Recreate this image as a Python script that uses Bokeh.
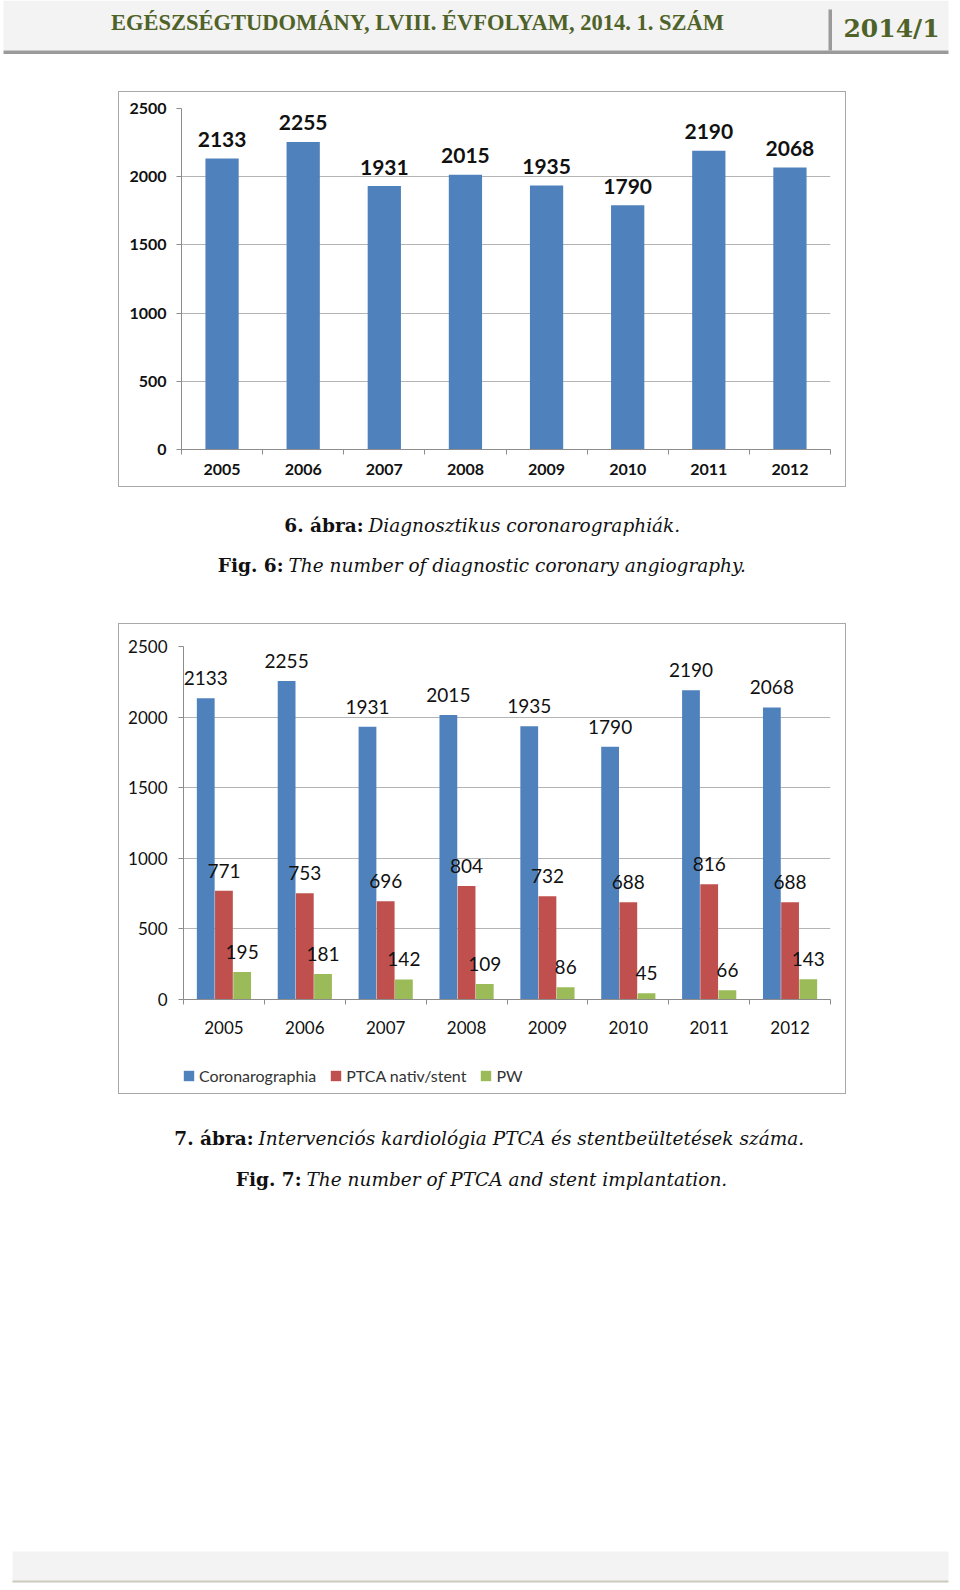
from bokeh.plotting import figure
from bokeh.models import (Range1d, FixedTicker, ColumnDataSource, Legend, LegendItem, Spacer)
from bokeh.layouts import column, row
from bokeh.core.properties import value
from bokeh.embed import file_html
from bokeh.resources import INLINE

# ---------------- data ----------------
years = ["2005", "2006", "2007", "2008", "2009", "2010", "2011", "2012"]
coronarographia = [2133, 2255, 1931, 2015, 1935, 1790, 2190, 2068]
ptca_nativ_stent = [771, 753, 696, 804, 732, 688, 816, 688]
pw = [195, 181, 142, 109, 86, 45, 66, 143]
y_ticks = [0, 500, 1000, 1500, 2000, 2500]
series_names = ["Coronarographia", "PTCA nativ/stent", "PW"]
series_colors = ["#4f81bd", "#c0504d", "#9bbb59"]

header_title = "EGÉSZSÉGTUDOMÁNY, LVIII. ÉVFOLYAM, 2014. 1. SZÁM"
header_issue = "2014/1"
cap6_bold = ["6. ábra:", "Fig. 6:"]
cap6_italic = ["Diagnosztikus coronarographiák.", "The number of diagnostic coronary angiography."]
cap7_bold = ["7. ábra:", "Fig. 7:"]
cap7_italic = ["Intervenciós kardiológia PTCA és stentbeültetések száma.",
               "The number of PTCA and stent implantation."]

HEAD_GREEN = "#4f6228"
SERIF = "DejaVu Serif"
SANS = "Lato"
AXIS_GREY = "#8c8c8c"
GRID_GREY = "#b4b4b4"
BORDER = "1px solid #a8a8a8"
PAGE_W = 958

n = len(years)
centers = [i + 0.5 for i in range(n)]   # category slot centres on the x scale


def blank(top, bottom):
    f = figure(width=PAGE_W, height=bottom - top, x_range=Range1d(0, PAGE_W), y_range=Range1d(bottom, top),
               output_backend="svg", toolbar_location=None, min_border=0,
               x_axis_location=None, y_axis_location=None)
    f.outline_line_color = None
    f.grid.visible = False
    f.background_fill_color = "white"
    f.border_fill_color = "white"
    return f


def caption(f, ys, split_x, bold, italic):
    f.text(x=split_x, y=ys, text=bold, text_align="right", text_baseline="alphabetic",
           text_font=value(SERIF), text_font_style="bold", text_font_size="18.5px", text_color="#111111")
    f.text(x=[s + 5 for s in split_x], y=ys, text=italic, text_align="left", text_baseline="alphabetic",
           text_font=value(SERIF), text_font_style="italic", text_font_size="18.5px", text_color="#111111")


# ---------------- header ----------------
head = blank(0, 91)
head.quad(left=3, right=948, top=0, bottom=50, fill_color="#f3f3f3", line_color=None)
head.quad(left=3, right=948, top=50, bottom=53.5, fill_color="#9a9a9a", line_color=None)
head.quad(left=828, right=831.5, top=9, bottom=50, fill_color="#9a9a9a", line_color=None)
head.text(x=[417], y=[22], text=[header_title], text_align="center", text_baseline="alphabetic",
          text_font=value("Liberation Serif"), text_font_style="bold", text_font_size="22.5px",
          text_color=HEAD_GREEN)
head.text(x=[891], y=[28], text=[header_issue], text_align="center", text_baseline="alphabetic",
          text_font=value(SERIF), text_font_style="bold", text_font_size="25px", text_color=HEAD_GREEN)


def style_axes(p, ystand, yfont, xstand, xfont, bold):
    p.yaxis.ticker = FixedTicker(ticks=y_ticks)
    p.yaxis.axis_line_color = AXIS_GREY
    p.yaxis.major_tick_line_color = AXIS_GREY
    p.yaxis.major_tick_out = 5
    p.yaxis.major_tick_in = 0
    p.yaxis.minor_tick_line_color = None
    p.yaxis.major_label_standoff = ystand
    p.yaxis.major_label_text_font = SANS
    p.yaxis.major_label_text_font_size = yfont
    p.yaxis.major_label_text_font_style = "bold" if bold else "normal"
    p.yaxis.major_label_text_color = "#111111"
    p.ygrid.ticker = FixedTicker(ticks=y_ticks)
    p.ygrid.grid_line_color = GRID_GREY
    p.xgrid.visible = False
    p.outline_line_color = None
    xa = p.xaxis
    xa.ticker = FixedTicker(ticks=centers, minor_ticks=list(range(n + 1)))
    xa.major_label_overrides = {c: y for c, y in zip(centers, years)}
    xa.axis_line_color = AXIS_GREY
    xa.major_tick_line_color = None
    xa.major_tick_out = 0
    xa.major_tick_in = 0
    xa.minor_tick_line_color = AXIS_GREY
    xa.minor_tick_out = 5
    xa.minor_tick_in = 0
    xa.major_label_standoff = xstand
    xa.major_label_text_font = SANS
    xa.major_label_text_font_size = xfont
    xa.major_label_text_font_style = "bold" if bold else "normal"
    xa.major_label_text_color = "#111111"


# ---------------- chart 6 ----------------
p1 = figure(x_range=Range1d(0, n), y_range=Range1d(0, 2500), width=728, height=396,
            min_border_left=62, min_border_right=17, min_border_top=16, min_border_bottom=39,
            output_backend="svg", toolbar_location=None, styles={"border": BORDER})
style_axes(p1, 10, "16px", 9, "16px", True)
src1 = ColumnDataSource(dict(x=centers, value=coronarographia, label=[str(v) for v in coronarographia]))
p1.vbar(x="x", top="value", width=0.41, source=src1, fill_color=series_colors[0], line_color=None)
p1.text(x="x", y="value", text="label", source=src1, y_offset=-19, text_align="center",
        text_baseline="middle", text_font=value(SANS), text_font_style="bold", text_font_size="21px",
        text_color="#111111")

cap1 = blank(487, 623)
caption(cap1, [525, 565], [363, 283], cap6_bold, cap6_italic)

# ---------------- chart 7 ----------------
p2 = figure(x_range=Range1d(0, n), y_range=Range1d(0, 2500), width=728, height=422,
            min_border_left=64, min_border_right=17, min_border_top=22, min_border_bottom=47,
            output_backend="svg", toolbar_location=None,
            styles={"border": BORDER, "border-bottom": "none"})
style_axes(p2, 11, "17px", 16, "17px", False)

# legend strip under chart 7 (same series sources; its view lies away from the bars, only the key is shown)
leg = figure(x_range=Range1d(100, 101), y_range=Range1d(5000, 6000), width=728, height=49, min_border=0,
             output_backend="svg", toolbar_location=None, x_axis_location=None, y_axis_location=None,
             styles={"border": BORDER, "border-top": "none"})
leg.grid.visible = False
leg.outline_line_color = None

offsets = [-0.225, 0.0, 0.225]
items = []
for vals, off, name, color in zip([coronarographia, ptca_nativ_stent, pw], offsets, series_names, series_colors):
    src = ColumnDataSource(dict(x=[c + off for c in centers], v=vals, lab=[str(v) for v in vals]))
    p2.vbar(x="x", top="v", width=0.22, source=src, fill_color=color, line_color=None)
    p2.text(x="x", y="v", text="lab", source=src, y_offset=-20,
            text_align="center", text_baseline="middle", text_font=value(SANS), text_font_size="19px",
            text_color="#111111")
    r = leg.vbar(x="x", top="v", width=0.22, source=src, fill_color=color, line_color=None)
    items.append(LegendItem(label=name, renderers=[r]))
legend = Legend(items=items, orientation="horizontal", location=(-1, 9), margin=0, padding=0,
                spacing=13, glyph_width=13, glyph_height=13, label_standoff=4,
                label_text_font=SANS, label_text_font_size="16px", label_text_color="#333333",
                border_line_color=None, background_fill_alpha=0)
leg.add_layout(legend, "center")

cap2 = blank(1094, 1588)
caption(cap2, [1138, 1179], [253, 301], cap7_bold, cap7_italic)
cap2.quad(left=12, right=948, top=1551, bottom=1580, fill_color="#f3f3f3", line_color=None)
cap2.quad(left=12, right=948, top=1580, bottom=1582, fill_color="#c9cabb", line_color=None)

layout = column(head,
                row(Spacer(width=118, height=396), p1),
                cap1,
                row(Spacer(width=118, height=471), column(p2, leg)),
                cap2)

open("out.html", "w").write(file_html(layout, INLINE))
